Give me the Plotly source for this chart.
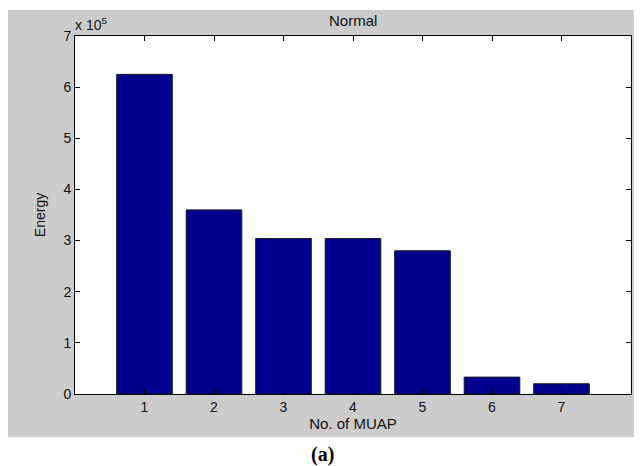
import plotly.graph_objects as go

categories = [1, 2, 3, 4, 5, 6, 7]
energy = [6.25e5, 3.60e5, 3.04e5, 3.04e5, 2.80e5, 0.33e5, 0.20e5]
ytick_vals = [0, 1e5, 2e5, 3e5, 4e5, 5e5, 6e5, 7e5]
ytick_text = ["0", "1", "2", "3", "4", "5", "6", "7"]

OFF = 8  # page body margin
W, H = 634, 458
L, R, T, B = 75 - OFF, 11, 36 - OFF, 72
pw, ph = W - L - R, H - T - B


def px_x(x):
    return (x - OFF - L) / pw


def px_y(y):
    return ((H - B) - (y - OFF)) / ph


fig = go.Figure()
fig.add_trace(go.Bar(
    x=categories, y=energy, width=0.8,
    marker=dict(color="#00008f", line=dict(color="#1a1a1a", width=1)),
))

font = dict(family="Liberation Sans, Arial, sans-serif", size=14, color="#111111")
lfont = dict(family="Liberation Sans, Arial, sans-serif", size=15, color="#111111")

fig.update_layout(
    width=W, height=H,
    margin=dict(l=L, r=R, t=T, b=B, pad=0),
    paper_bgcolor="white", plot_bgcolor="white",
    showlegend=False, font=font,
    xaxis=dict(range=[0, 8], tickvals=categories, ticks="inside", ticklen=5,
               tickcolor="black", showline=True, linecolor="black", linewidth=1,
               mirror="ticks", showgrid=False, zeroline=False, tickfont=font,
               title=dict(text="No. of MUAP", standoff=0, font=lfont)),
    yaxis=dict(range=[0, 7e5], tickvals=ytick_vals, ticktext=ytick_text,
               ticks="inside", ticklen=5, tickcolor="black", showline=True,
               linecolor="black", linewidth=1, mirror="ticks", showgrid=False,
               zeroline=False, tickfont=font,
               title=dict(text="Energy", standoff=14, font=font)),
    shapes=[
        dict(type="rect", xref="paper", yref="paper", layer="below",
             x0=px_x(OFF), x1=px_x(W + OFF), y0=px_y(437), y1=px_y(10),
             fillcolor="#cccccc", line=dict(width=0)),
        dict(type="rect", xref="paper", yref="paper", layer="below",
             x0=0, x1=1, y0=0, y1=1, fillcolor="white", line=dict(width=0)),
    ],
    annotations=[
        dict(text="Normal", xref="paper", yref="paper", x=0.5, y=px_y(20),
             xanchor="center", yanchor="middle", showarrow=False,
             font=lfont),
        dict(text="x 10<sup>5</sup>", xref="paper", yref="paper", x=px_x(73),
             y=px_y(36), yshift=1, xanchor="left", yanchor="bottom",
             showarrow=False, font=font),
        dict(text="<b>(a)</b>", xref="paper", yref="paper",
             x=px_x(322), y=px_y(454),
             xanchor="center", yanchor="middle", showarrow=False,
             font=dict(family="Liberation Serif, DejaVu Serif, serif",
                       size=20, color="black")),
    ],
)

fig.write_html("out.html")
